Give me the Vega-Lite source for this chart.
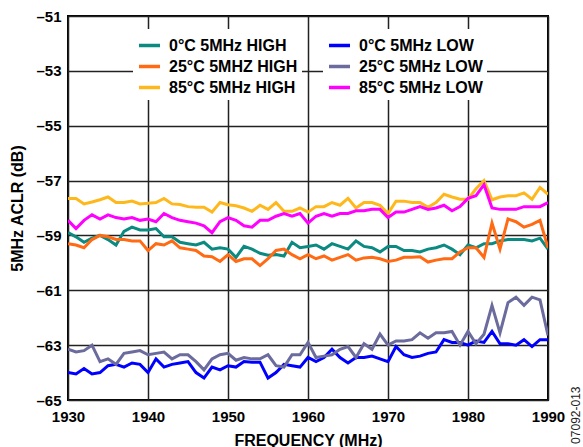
{
  "$schema": "https://vega.github.io/schema/vega-lite/v6.json",
  "autosize": "none",
  "width": 480,
  "height": 384,
  "padding": {"left": 68, "top": 16, "right": 35, "bottom": 47},
  "background": "white",
  "config": {
    "font": "Liberation Sans",
    "view": {"stroke": "black", "strokeWidth": 2},
    "axis": {"labelFont": "Liberation Sans", "labelFontWeight": "bold", "labelFontSize": 15, "labelColor": "black", "titleFont": "Liberation Sans", "titleFontWeight": "bold", "titleFontSize": 16, "titleColor": "black", "grid": true, "gridColor": "#222", "gridWidth": 1.5, "gridOpacity": 1, "ticks": false, "domain": false},
    "legend": {"labelFont": "Liberation Sans", "labelFontWeight": "bold", "labelFontSize": 16, "labelColor": "black", "symbolType": "stroke", "symbolStrokeWidth": 3.5, "symbolSize": 441, "fillColor": "white", "padding": 4, "rowPadding": 0, "labelOffset": 7, "title": null}
  },
  "data": {"values": [
    {"f":1930,"0°C 5MHz HIGH":-58.9,"25°C 5MHZ HIGH":-59.3,"85°C 5MHz HIGH":-57.65,"0°C 5MHz LOW":-64.0,"25°C 5MHz LOW":-63.15,"85°C 5MHz LOW":-58.45},
    {"f":1931,"0°C 5MHz HIGH":-59.05,"25°C 5MHZ HIGH":-59.35,"85°C 5MHz HIGH":-57.65,"0°C 5MHz LOW":-64.05,"25°C 5MHz LOW":-63.25,"85°C 5MHz LOW":-58.75},
    {"f":1932,"0°C 5MHz HIGH":-59.25,"25°C 5MHZ HIGH":-59.45,"85°C 5MHz HIGH":-57.85,"0°C 5MHz LOW":-63.85,"25°C 5MHz LOW":-63.2,"85°C 5MHz LOW":-58.45},
    {"f":1933,"0°C 5MHz HIGH":-59.1,"25°C 5MHZ HIGH":-59.15,"85°C 5MHz HIGH":-57.78,"0°C 5MHz LOW":-64.05,"25°C 5MHz LOW":-63.0,"85°C 5MHz LOW":-58.25},
    {"f":1934,"0°C 5MHz HIGH":-59.0,"25°C 5MHZ HIGH":-59.0,"85°C 5MHz HIGH":-57.7,"0°C 5MHz LOW":-64.0,"25°C 5MHz LOW":-63.6,"85°C 5MHz LOW":-58.4},
    {"f":1935,"0°C 5MHz HIGH":-59.15,"25°C 5MHZ HIGH":-59.05,"85°C 5MHz HIGH":-57.6,"0°C 5MHz LOW":-63.75,"25°C 5MHz LOW":-63.5,"85°C 5MHz LOW":-58.25},
    {"f":1936,"0°C 5MHz HIGH":-59.35,"25°C 5MHZ HIGH":-59.15,"85°C 5MHz HIGH":-57.8,"0°C 5MHz LOW":-63.7,"25°C 5MHz LOW":-63.7,"85°C 5MHz LOW":-58.35},
    {"f":1937,"0°C 5MHz HIGH":-58.85,"25°C 5MHZ HIGH":-59.15,"85°C 5MHz HIGH":-57.8,"0°C 5MHz LOW":-63.8,"25°C 5MHz LOW":-63.3,"85°C 5MHz LOW":-58.4},
    {"f":1938,"0°C 5MHz HIGH":-58.7,"25°C 5MHZ HIGH":-59.2,"85°C 5MHz HIGH":-57.75,"0°C 5MHz LOW":-63.65,"25°C 5MHz LOW":-63.25,"85°C 5MHz LOW":-58.35},
    {"f":1939,"0°C 5MHz HIGH":-58.8,"25°C 5MHZ HIGH":-59.2,"85°C 5MHz HIGH":-57.85,"0°C 5MHz LOW":-63.7,"25°C 5MHz LOW":-63.2,"85°C 5MHz LOW":-58.45},
    {"f":1940,"0°C 5MHz HIGH":-58.8,"25°C 5MHZ HIGH":-59.55,"85°C 5MHz HIGH":-57.83,"0°C 5MHz LOW":-64.0,"25°C 5MHz LOW":-63.35,"85°C 5MHz LOW":-58.4},
    {"f":1941,"0°C 5MHz HIGH":-58.75,"25°C 5MHZ HIGH":-59.3,"85°C 5MHz HIGH":-57.8,"0°C 5MHz LOW":-63.5,"25°C 5MHz LOW":-63.3,"85°C 5MHz LOW":-58.5},
    {"f":1942,"0°C 5MHz HIGH":-59.05,"25°C 5MHZ HIGH":-59.35,"85°C 5MHz HIGH":-57.65,"0°C 5MHz LOW":-63.8,"25°C 5MHz LOW":-63.25,"85°C 5MHz LOW":-58.2},
    {"f":1943,"0°C 5MHz HIGH":-59.05,"25°C 5MHZ HIGH":-59.2,"85°C 5MHz HIGH":-57.85,"0°C 5MHz LOW":-63.7,"25°C 5MHz LOW":-63.5,"85°C 5MHz LOW":-58.35},
    {"f":1944,"0°C 5MHz HIGH":-59.25,"25°C 5MHZ HIGH":-59.45,"85°C 5MHz HIGH":-57.87,"0°C 5MHz LOW":-63.65,"25°C 5MHz LOW":-63.35,"85°C 5MHz LOW":-58.45},
    {"f":1945,"0°C 5MHz HIGH":-59.3,"25°C 5MHZ HIGH":-59.5,"85°C 5MHz HIGH":-57.95,"0°C 5MHz LOW":-63.6,"25°C 5MHz LOW":-63.35,"85°C 5MHz LOW":-58.5},
    {"f":1946,"0°C 5MHz HIGH":-59.35,"25°C 5MHZ HIGH":-59.55,"85°C 5MHz HIGH":-57.97,"0°C 5MHz LOW":-64.0,"25°C 5MHz LOW":-63.6,"85°C 5MHz LOW":-58.55},
    {"f":1947,"0°C 5MHz HIGH":-59.25,"25°C 5MHZ HIGH":-59.75,"85°C 5MHz HIGH":-57.97,"0°C 5MHz LOW":-64.2,"25°C 5MHz LOW":-63.9,"85°C 5MHz LOW":-58.65},
    {"f":1948,"0°C 5MHz HIGH":-59.5,"25°C 5MHZ HIGH":-59.78,"85°C 5MHz HIGH":-58.15,"0°C 5MHz LOW":-63.8,"25°C 5MHz LOW":-63.5,"85°C 5MHz LOW":-58.9},
    {"f":1949,"0°C 5MHz HIGH":-59.45,"25°C 5MHZ HIGH":-59.95,"85°C 5MHz HIGH":-57.8,"0°C 5MHz LOW":-63.9,"25°C 5MHz LOW":-63.35,"85°C 5MHz LOW":-58.5},
    {"f":1950,"0°C 5MHz HIGH":-59.5,"25°C 5MHZ HIGH":-59.7,"85°C 5MHz HIGH":-57.88,"0°C 5MHz LOW":-63.75,"25°C 5MHz LOW":-63.3,"85°C 5MHz LOW":-58.35},
    {"f":1951,"0°C 5MHz HIGH":-59.8,"25°C 5MHZ HIGH":-59.95,"85°C 5MHz HIGH":-57.92,"0°C 5MHz LOW":-63.8,"25°C 5MHz LOW":-63.55,"85°C 5MHz LOW":-58.45},
    {"f":1952,"0°C 5MHz HIGH":-59.4,"25°C 5MHZ HIGH":-59.85,"85°C 5MHz HIGH":-58.0,"0°C 5MHz LOW":-63.6,"25°C 5MHz LOW":-63.45,"85°C 5MHz LOW":-58.65},
    {"f":1953,"0°C 5MHz HIGH":-59.5,"25°C 5MHZ HIGH":-59.85,"85°C 5MHz HIGH":-58.12,"0°C 5MHz LOW":-63.62,"25°C 5MHz LOW":-63.5,"85°C 5MHz LOW":-58.7},
    {"f":1954,"0°C 5MHz HIGH":-59.65,"25°C 5MHZ HIGH":-60.1,"85°C 5MHz HIGH":-57.9,"0°C 5MHz LOW":-63.62,"25°C 5MHz LOW":-63.5,"85°C 5MHz LOW":-58.45},
    {"f":1955,"0°C 5MHz HIGH":-59.72,"25°C 5MHZ HIGH":-59.85,"85°C 5MHz HIGH":-58.05,"0°C 5MHz LOW":-64.2,"25°C 5MHz LOW":-63.35,"85°C 5MHz LOW":-58.45},
    {"f":1956,"0°C 5MHz HIGH":-59.7,"25°C 5MHZ HIGH":-59.55,"85°C 5MHz HIGH":-57.8,"0°C 5MHz LOW":-64.0,"25°C 5MHz LOW":-63.75,"85°C 5MHz LOW":-58.3},
    {"f":1957,"0°C 5MHz HIGH":-59.75,"25°C 5MHZ HIGH":-59.5,"85°C 5MHz HIGH":-58.12,"0°C 5MHz LOW":-63.7,"25°C 5MHz LOW":-63.8,"85°C 5MHz LOW":-58.2},
    {"f":1958,"0°C 5MHz HIGH":-59.25,"25°C 5MHZ HIGH":-59.7,"85°C 5MHz HIGH":-58.12,"0°C 5MHz LOW":-63.75,"25°C 5MHz LOW":-63.35,"85°C 5MHz LOW":-58.3},
    {"f":1959,"0°C 5MHz HIGH":-59.45,"25°C 5MHZ HIGH":-59.85,"85°C 5MHz HIGH":-58.0,"0°C 5MHz LOW":-63.8,"25°C 5MHz LOW":-63.35,"85°C 5MHz LOW":-58.2},
    {"f":1960,"0°C 5MHz HIGH":-59.4,"25°C 5MHZ HIGH":-59.7,"85°C 5MHz HIGH":-58.15,"0°C 5MHz LOW":-63.45,"25°C 5MHz LOW":-62.9,"85°C 5MHz LOW":-58.55},
    {"f":1961,"0°C 5MHz HIGH":-59.35,"25°C 5MHZ HIGH":-59.85,"85°C 5MHz HIGH":-57.95,"0°C 5MHz LOW":-63.6,"25°C 5MHz LOW":-63.45,"85°C 5MHz LOW":-58.3},
    {"f":1962,"0°C 5MHz HIGH":-59.5,"25°C 5MHZ HIGH":-59.75,"85°C 5MHz HIGH":-57.95,"0°C 5MHz LOW":-63.45,"25°C 5MHz LOW":-63.4,"85°C 5MHz LOW":-58.2},
    {"f":1963,"0°C 5MHz HIGH":-59.3,"25°C 5MHZ HIGH":-59.9,"85°C 5MHz HIGH":-57.8,"0°C 5MHz LOW":-63.15,"25°C 5MHz LOW":-63.35,"85°C 5MHz LOW":-58.3},
    {"f":1964,"0°C 5MHz HIGH":-59.4,"25°C 5MHZ HIGH":-59.8,"85°C 5MHz HIGH":-57.9,"0°C 5MHz LOW":-63.45,"25°C 5MHz LOW":-63.15,"85°C 5MHz LOW":-58.2},
    {"f":1965,"0°C 5MHz HIGH":-59.5,"25°C 5MHZ HIGH":-59.7,"85°C 5MHz HIGH":-57.65,"0°C 5MHz LOW":-63.65,"25°C 5MHz LOW":-63.05,"85°C 5MHz LOW":-58.2},
    {"f":1966,"0°C 5MHz HIGH":-59.2,"25°C 5MHZ HIGH":-59.9,"85°C 5MHz HIGH":-58.0,"0°C 5MHz LOW":-63.45,"25°C 5MHz LOW":-63.45,"85°C 5MHz LOW":-58.1},
    {"f":1967,"0°C 5MHz HIGH":-59.4,"25°C 5MHZ HIGH":-59.82,"85°C 5MHz HIGH":-57.8,"0°C 5MHz LOW":-63.45,"25°C 5MHz LOW":-62.95,"85°C 5MHz LOW":-58.1},
    {"f":1968,"0°C 5MHz HIGH":-59.45,"25°C 5MHZ HIGH":-59.8,"85°C 5MHz HIGH":-57.8,"0°C 5MHz LOW":-63.4,"25°C 5MHz LOW":-63.15,"85°C 5MHz LOW":-58.05},
    {"f":1969,"0°C 5MHz HIGH":-59.6,"25°C 5MHZ HIGH":-59.85,"85°C 5MHz HIGH":-57.9,"0°C 5MHz LOW":-63.5,"25°C 5MHz LOW":-62.6,"85°C 5MHz LOW":-58.05},
    {"f":1970,"0°C 5MHz HIGH":-59.4,"25°C 5MHZ HIGH":-59.95,"85°C 5MHz HIGH":-58.2,"0°C 5MHz LOW":-63.6,"25°C 5MHz LOW":-63.0,"85°C 5MHz LOW":-58.35},
    {"f":1971,"0°C 5MHz HIGH":-59.4,"25°C 5MHZ HIGH":-59.9,"85°C 5MHz HIGH":-57.75,"0°C 5MHz LOW":-63.05,"25°C 5MHz LOW":-62.85,"85°C 5MHz LOW":-58.15},
    {"f":1972,"0°C 5MHz HIGH":-59.55,"25°C 5MHZ HIGH":-59.8,"85°C 5MHz HIGH":-57.75,"0°C 5MHz LOW":-63.35,"25°C 5MHz LOW":-62.85,"85°C 5MHz LOW":-58.15},
    {"f":1973,"0°C 5MHz HIGH":-59.55,"25°C 5MHZ HIGH":-59.8,"85°C 5MHz HIGH":-57.8,"0°C 5MHz LOW":-63.45,"25°C 5MHz LOW":-62.8,"85°C 5MHz LOW":-58.05},
    {"f":1974,"0°C 5MHz HIGH":-59.6,"25°C 5MHZ HIGH":-59.78,"85°C 5MHz HIGH":-57.8,"0°C 5MHz LOW":-63.4,"25°C 5MHz LOW":-62.55,"85°C 5MHz LOW":-57.95},
    {"f":1975,"0°C 5MHz HIGH":-59.5,"25°C 5MHZ HIGH":-59.97,"85°C 5MHz HIGH":-57.97,"0°C 5MHz LOW":-63.3,"25°C 5MHz LOW":-62.75,"85°C 5MHz LOW":-58.05},
    {"f":1976,"0°C 5MHz HIGH":-59.45,"25°C 5MHZ HIGH":-59.9,"85°C 5MHz HIGH":-57.8,"0°C 5MHz LOW":-63.25,"25°C 5MHz LOW":-62.55,"85°C 5MHz LOW":-58.0},
    {"f":1977,"0°C 5MHz HIGH":-59.35,"25°C 5MHZ HIGH":-59.85,"85°C 5MHz HIGH":-57.5,"0°C 5MHz LOW":-62.8,"25°C 5MHz LOW":-62.55,"85°C 5MHz LOW":-57.9},
    {"f":1978,"0°C 5MHz HIGH":-59.5,"25°C 5MHZ HIGH":-59.85,"85°C 5MHz HIGH":-57.6,"0°C 5MHz LOW":-62.9,"25°C 5MHz LOW":-62.5,"85°C 5MHz LOW":-58.1},
    {"f":1979,"0°C 5MHz HIGH":-59.7,"25°C 5MHZ HIGH":-59.6,"85°C 5MHz HIGH":-57.68,"0°C 5MHz LOW":-62.9,"25°C 5MHz LOW":-63.0,"85°C 5MHz LOW":-57.95},
    {"f":1980,"0°C 5MHz HIGH":-59.35,"25°C 5MHZ HIGH":-59.45,"85°C 5MHz HIGH":-57.68,"0°C 5MHz LOW":-63.0,"25°C 5MHz LOW":-62.5,"85°C 5MHz LOW":-57.65},
    {"f":1981,"0°C 5MHz HIGH":-59.45,"25°C 5MHZ HIGH":-59.45,"85°C 5MHz HIGH":-57.3,"0°C 5MHz LOW":-62.85,"25°C 5MHz LOW":-62.95,"85°C 5MHz LOW":-57.55},
    {"f":1982,"0°C 5MHz HIGH":-59.3,"25°C 5MHZ HIGH":-59.8,"85°C 5MHz HIGH":-57.0,"0°C 5MHz LOW":-62.9,"25°C 5MHz LOW":-62.6,"85°C 5MHz LOW":-57.15},
    {"f":1983,"0°C 5MHz HIGH":-59.3,"25°C 5MHZ HIGH":-58.55,"85°C 5MHz HIGH":-57.7,"0°C 5MHz LOW":-62.5,"25°C 5MHz LOW":-61.55,"85°C 5MHz LOW":-58.0},
    {"f":1984,"0°C 5MHz HIGH":-59.2,"25°C 5MHZ HIGH":-59.5,"85°C 5MHz HIGH":-57.6,"0°C 5MHz LOW":-62.95,"25°C 5MHz LOW":-62.55,"85°C 5MHz LOW":-58.05},
    {"f":1985,"0°C 5MHz HIGH":-59.15,"25°C 5MHZ HIGH":-58.4,"85°C 5MHz HIGH":-57.55,"0°C 5MHz LOW":-62.95,"25°C 5MHz LOW":-61.45,"85°C 5MHz LOW":-58.05},
    {"f":1986,"0°C 5MHz HIGH":-59.15,"25°C 5MHZ HIGH":-58.5,"85°C 5MHz HIGH":-57.55,"0°C 5MHz LOW":-63.0,"25°C 5MHz LOW":-61.25,"85°C 5MHz LOW":-58.05},
    {"f":1987,"0°C 5MHz HIGH":-59.15,"25°C 5MHZ HIGH":-58.7,"85°C 5MHz HIGH":-57.45,"0°C 5MHz LOW":-62.8,"25°C 5MHz LOW":-61.55,"85°C 5MHz LOW":-57.95},
    {"f":1988,"0°C 5MHz HIGH":-59.2,"25°C 5MHZ HIGH":-58.6,"85°C 5MHz HIGH":-57.68,"0°C 5MHz LOW":-63.05,"25°C 5MHz LOW":-61.25,"85°C 5MHz LOW":-57.95},
    {"f":1989,"0°C 5MHz HIGH":-59.1,"25°C 5MHZ HIGH":-58.45,"85°C 5MHz HIGH":-57.25,"0°C 5MHz LOW":-62.8,"25°C 5MHz LOW":-61.35,"85°C 5MHz LOW":-57.95},
    {"f":1990,"0°C 5MHz HIGH":-59.5,"25°C 5MHZ HIGH":-59.45,"85°C 5MHz HIGH":-57.5,"0°C 5MHz LOW":-62.8,"25°C 5MHz LOW":-62.65,"85°C 5MHz LOW":-57.8}
  ]},
  "transform": [
    {"fold": ["0°C 5MHz HIGH", "25°C 5MHZ HIGH", "85°C 5MHz HIGH", "0°C 5MHz LOW", "25°C 5MHz LOW", "85°C 5MHz LOW"], "as": ["series", "value"]}
  ],
  "encoding": {
    "x": {"field": "f", "type": "quantitative", "scale": {"domain": [1930, 1990], "nice": false, "zero": false}, "axis": {"values": [1930, 1940, 1950, 1960, 1970, 1980, 1990], "format": "d", "title": "FREQUENCY (MHz)", "labelPadding": 9, "titlePadding": 8, "labelFlush": false}}
  },
  "layer": [
    {
      "encoding": {
        "y": {"field": "value", "type": "quantitative", "scale": {"domain": [-65, -51], "nice": false, "zero": false}, "axis": {"values": [-65, -63, -61, -59, -57, -55, -53, -51], "labelExpr": "'–' + abs(datum.value)", "title": "5MHz ACLR (dB)", "labelPadding": 7, "titlePadding": 10, "labelFlush": false}}
      },
      "layer": [
        {
          "transform": [{"filter": {"field": "series", "oneOf": ["0°C 5MHz HIGH", "25°C 5MHZ HIGH", "85°C 5MHz HIGH"]}}],
          "mark": {"type": "line", "strokeWidth": 3, "clip": true},
          "encoding": {
            "color": {"field": "series", "type": "nominal", "scale": {"domain": ["0°C 5MHz HIGH", "25°C 5MHZ HIGH", "85°C 5MHz HIGH"], "range": ["#0A8A80", "#FF6A13", "#FFB81C"]}, "legend": {"orient": "none", "legendX": 65, "legendY": 13}}
          }
        },
        {
          "transform": [{"filter": {"field": "series", "oneOf": ["0°C 5MHz LOW", "25°C 5MHz LOW", "85°C 5MHz LOW"]}}],
          "mark": {"type": "line", "strokeWidth": 3, "clip": true},
          "encoding": {
            "color": {"field": "series", "type": "nominal", "scale": {"domain": ["0°C 5MHz LOW", "25°C 5MHz LOW", "85°C 5MHz LOW"], "range": ["#0000FF", "#6B6B9E", "#FF00FF"]}, "legend": {"orient": "none", "legendX": 255, "legendY": 13}}
          }
        }
      ],
      "resolve": {"scale": {"color": "independent"}}
    },
    {
      "transform": [{"filter": {"field": "series", "equal": "0°C 5MHz LOW"}}],
      "mark": {"type": "line", "strokeOpacity": 0, "clip": true},
      "encoding": {
        "y": {"field": "value", "type": "quantitative", "scale": {"domain": [-65, -51], "nice": false, "zero": false}, "axis": {"orient": "right", "labels": false, "ticks": false, "domain": false, "grid": false, "title": "07092-013", "titleAngle": 270, "titleAlign": "right", "titleBaseline": "middle", "titleFontSize": 12, "titleFontWeight": "normal", "titleColor": "#222", "titleX": 27, "titleY": 370}}
      }
    }
  ],
  "resolve": {"scale": {"y": "independent"}}
}
